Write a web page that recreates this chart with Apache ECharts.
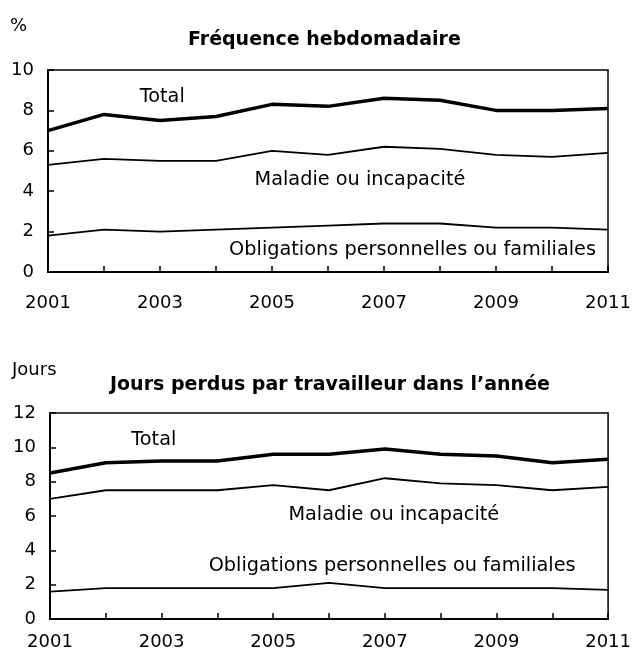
<!DOCTYPE html>
<html><head><meta charset="utf-8">
<script src="https://cdn.jsdelivr.net/npm/echarts@6/dist/echarts.min.js"></script>
<style>html,body{margin:0;padding:0;background:#fff}#c{width:634px;height:660px}</style>
</head><body><div id="c"></div>
<script>
const years = [2001,2002,2003,2004,2005,2006,2007,2008,2009,2010,2011];
const xTickLabels = ['2001','2003','2005','2007','2009','2011'];
// Fréquence hebdomadaire (%)
const freqTotal   = [7.0,7.8,7.5,7.7,8.3,8.2,8.6,8.5,8.0,8.0,8.1];
const freqMaladie = [5.3,5.6,5.5,5.5,6.0,5.8,6.2,6.1,5.8,5.7,5.9];
const freqOblig   = [1.8,2.1,2.0,2.1,2.2,2.3,2.4,2.4,2.2,2.2,2.1];
// Jours perdus par travailleur dans l'année
const joursTotal   = [8.5,9.1,9.2,9.2,9.6,9.6,9.9,9.6,9.5,9.1,9.3];
const joursMaladie = [7.0,7.5,7.5,7.5,7.8,7.5,8.2,7.9,7.8,7.5,7.7];
const joursOblig   = [1.6,1.8,1.8,1.8,1.8,2.1,1.8,1.8,1.8,1.8,1.7];
const seriesNames = ['Total','Maladie ou incapacité','Obligations personnelles ou familiales'];
const titles = ['Fréquence hebdomadaire','Jours perdus par travailleur dans l\u2019année'];
const units = ['%','Jours'];

const FONT = '"DejaVu Sans"';
const pairs = arr => arr.map((v,i)=>[years[i], v]);

function xAxis(gi, margin){
  return {
    type:'value', gridIndex:gi, min:2001, max:2011, interval:1,
    axisLine:{show:true, lineStyle:{color:'#000', width:2}},
    axisTick:{show:true, inside:true, length:6, lineStyle:{color:'#000', width:1.5}},
    axisLabel:{margin:margin, color:'#000', fontSize:18, fontFamily:FONT,
      formatter: v => xTickLabels.includes(String(v)) ? String(v) : '',
      showMinLabel:true, showMaxLabel:true},
    splitLine:{show:false}
  };
}
function yAxis(gi, max){
  return {
    type:'value', gridIndex:gi, min:0, max:max, interval:2,
    axisLine:{show:true, lineStyle:{color:'#000', width:2}},
    axisTick:{show:true, inside:true, length:6, lineStyle:{color:'#000', width:1.5}},
    axisLabel:{margin:14, color:'#000', fontSize:18, fontFamily:FONT},
    splitLine:{show:false}
  };
}
function lbl(text, coord){
  return {coord:coord, value:text,
    label:{show:true, formatter:text, position:'inside', color:'#000', fontSize:19.3, fontFamily:FONT}};
}
function line(name, data, gi, width, labelPt){
  return {
    name:name, type:'line', xAxisIndex:gi, yAxisIndex:gi, data:pairs(data),
    symbol:'none', silent:true, animation:false,
    lineStyle:{color:'#000', width:width},
    markPoint:{symbol:'circle', symbolSize:2, silent:true, animation:false,
      itemStyle:{color:'rgba(0,0,0,0)'}, data:[lbl(name, labelPt)]}
  };
}

const chart = echarts.init(document.getElementById('c'), null, {renderer:'canvas'});
chart.setOption({
  animation:false,
  backgroundColor:'#fff',
  grid:[
    {left:48, top:70, width:560, height:202, show:true, borderColor:'#000', borderWidth:1.5, backgroundColor:'transparent'},
    {left:50, top:413, width:563, height:206, show:true, borderColor:'#000', borderWidth:1.5, backgroundColor:'transparent'}
  ],
  xAxis:[xAxis(0,22), xAxis(1,14)],
  yAxis:[yAxis(0,10), yAxis(1,12)],
  graphic:[
    {type:'text', left:10, top:17, style:{text:units[0], font:'18px '+FONT, fill:'#000'}},
    {type:'text', left:12, top:361, style:{text:units[1], font:'18px '+FONT, fill:'#000'}},
    {type:'text', x:188, y:40, style:{text:titles[0], font:'bold 19px '+FONT, fill:'#000', align:'left', verticalAlign:'middle'}},
    {type:'text', x:110, y:385, style:{text:titles[1], font:'bold 19px '+FONT, fill:'#000', align:'left', verticalAlign:'middle'}}
  ],
  series:[
    line(seriesNames[0], freqTotal, 0, 3.5, [2003.04, 8.66]),
    line(seriesNames[1], freqMaladie, 0, 1.8, [2006.57, 4.55]),
    line(seriesNames[2], freqOblig, 0, 1.8, [2007.51, 1.09]),
    line(seriesNames[0], joursTotal, 1, 3.5, [2002.86, 10.44]),
    line(seriesNames[1], joursMaladie, 1, 1.8, [2007.16, 6.07]),
    line(seriesNames[2], joursOblig, 1, 1.8, [2007.13, 3.1])
  ]
});
</script></body></html>
